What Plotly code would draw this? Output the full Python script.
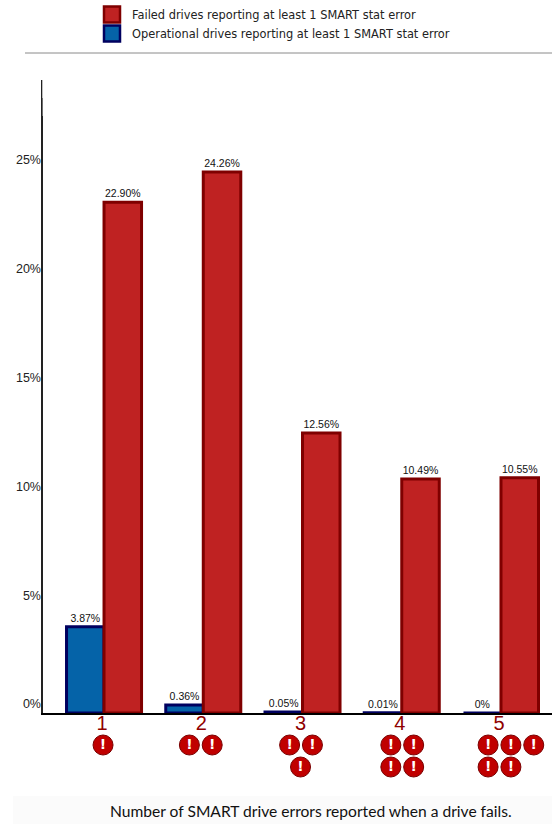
import plotly.graph_objects as go

categories = ["1", "2", "3", "4", "5"]
operational = [3.87, 0.36, 0.05, 0.01, 0]
failed = [22.90, 24.26, 12.56, 10.49, 10.55]
operational_labels = ["3.87%", "0.36%", "0.05%", "0.01%", "0%"]
failed_labels = ["22.90%", "24.26%", "12.56%", "10.49%", "10.55%"]
tick_values = [0, 5, 10, 15, 20, 25]
tick_labels = ["0%", "5%", "10%", "15%", "20%", "25%"]
legend_failed = "Failed drives reporting at least 1 SMART stat error"
legend_operational = "Operational drives reporting at least 1 SMART stat error"
axis_title = "Number of SMART drive errors reported when a drive fails."

# warning icons under each category: category index, offset, row
icon_cat = [0, 1, 1, 2, 2, 2, 3, 3, 3, 3, 4, 4, 4, 4, 4]
icon_dx = [-0.01, -0.14, 0.09, -0.13, 0.10, -0.02, -0.11, 0.12, -0.11, 0.12, -0.13, 0.10, 0.33, -0.13, 0.10]
icon_row = [0, 0, 0, 0, 0, 1, 0, 0, 1, 1, 0, 0, 0, 1, 1]

W, H = 552, 824
L, R, T, B, BOTTOM = 43, 552, 80, 713, 790
PX_PER = 22.3
RED, RED_LINE = "#bf2222", "#7f0000"
BLUE, BLUE_LINE = "#0563a8", "#00005f"
DARK_RED = "#8f0000"
XRANGE = [-0.615, 4.514]
positions = list(range(len(categories)))
label_font = dict(family="Liberation Sans", size=10.5, color="#111")


def py(px):
    return (BOTTOM - px) / (BOTTOM - T)


def px_x(px):
    return (px - L) / (R - L)


fig = go.Figure()
fig.add_bar(x=positions, y=operational, marker=dict(color=BLUE, line=dict(color=BLUE_LINE, width=3)),
            text=operational_labels, textposition="outside", cliponaxis=False, showlegend=False,
            textfont=label_font, hoverinfo="skip")
fig.add_bar(x=positions, y=failed, marker=dict(color=RED, line=dict(color=RED_LINE, width=3)),
            text=failed_labels, textposition="outside", cliponaxis=False, showlegend=False,
            textfont=label_font, hoverinfo="skip")

fig.add_scatter(x=[None], y=[None], mode="markers", name=legend_failed,
                marker=dict(symbol="square", size=16, color=RED, line=dict(color=RED_LINE, width=2.5)))
fig.add_scatter(x=[None], y=[None], mode="markers", name=legend_operational,
                marker=dict(symbol="square", size=16, color=BLUE, line=dict(color=BLUE_LINE, width=2.5)))

fig.add_scatter(
    x=[c + dx for c, dx in zip(icon_cat, icon_dx)], y=icon_row, xaxis="x2", yaxis="y3",
    mode="markers+text", text=["!"] * len(icon_dx), textposition="middle center",
    textfont=dict(family="DejaVu Sans", size=14, color="white", weight="bold"), showlegend=False,
    marker=dict(size=20, color="#c00000", line=dict(color="#7a0000", width=1)), hoverinfo="skip")

fig.add_scatter(x=[0], y=[0], yaxis="y2", mode="markers", marker=dict(opacity=0), showlegend=False, hoverinfo="skip")

fig.update_layout(
    width=W, height=H, autosize=False,
    margin=dict(l=L, r=W - R, t=T, b=H - BOTTOM),
    paper_bgcolor="white", plot_bgcolor="white",
    barmode="group", bargap=0.244, bargroupgap=0,
    font=dict(family="Liberation Sans", color="#111"),
    legend=dict(x=px_x(92), y=py(0), xanchor="left", yanchor="top",
                bgcolor="rgba(0,0,0,0)", font=dict(family="DejaVu Sans", size=11.4, color="#222"), itemsizing="trace"),
    xaxis=dict(range=XRANGE, showgrid=False, zeroline=False, showline=True, linecolor="black", linewidth=1.5,
               ticks="", tickvals=positions, ticktext=categories, ticklabelstandoff=-9, ticklabelshift=-2,
               tickfont=dict(family="Liberation Sans", size=20, color=DARK_RED)),
    xaxis2=dict(range=XRANGE, anchor="y3", visible=False),
    yaxis=dict(domain=[py(B), 1], range=[0, (B - T) / PX_PER], showgrid=False, zeroline=False, showline=True,
               linecolor="#222", linewidth=1.5, ticks="", showticklabels=False),
    yaxis2=dict(domain=[py(B), 1], range=[-9 / 21.76, (704 - T) / 21.76], overlaying="y", side="left",
                showgrid=False, zeroline=False, showline=False, ticks="", ticklabelstandoff=1,
                tickvals=tick_values, ticktext=tick_labels,
                tickfont=dict(family="Liberation Sans", size=12.5, color="#222")),
    yaxis3=dict(domain=[0, py(B)], range=[(BOTTOM - 745) / 22, (B - 745) / 22], anchor="x2", visible=False),
    shapes=[
        dict(type="line", xref="paper", yref="paper", x0=px_x(25), x1=1, y0=py(53), y1=py(53),
             line=dict(color="#8a8a8a", width=1)),
        dict(type="rect", xref="paper", yref="paper", x0=px_x(13), x1=1, y0=py(824), y1=py(796),
             fillcolor="#fbfbfb", line=dict(width=0), layer="below"),
        dict(type="line", xref="paper", yref="paper", x0=0, x1=0, y0=py(80), y1=py(98),
             line=dict(color="rgba(255,255,255,0.7)", width=2)),
        dict(type="line", xref="paper", yref="paper", x0=0, x1=0, y0=py(98), y1=py(116),
             line=dict(color="rgba(255,255,255,0.35)", width=2)),
    ],
    annotations=[dict(text=axis_title, xref="paper", yref="paper", x=px_x(311), y=py(811),
                      xanchor="center", yanchor="middle", showarrow=False,
                      font=dict(family="Lato", size=15.6, color="#111"))],
)
fig.write_html("out.html", post_script="document.body.style.margin='0';", config=dict(displayModeBar=False))
